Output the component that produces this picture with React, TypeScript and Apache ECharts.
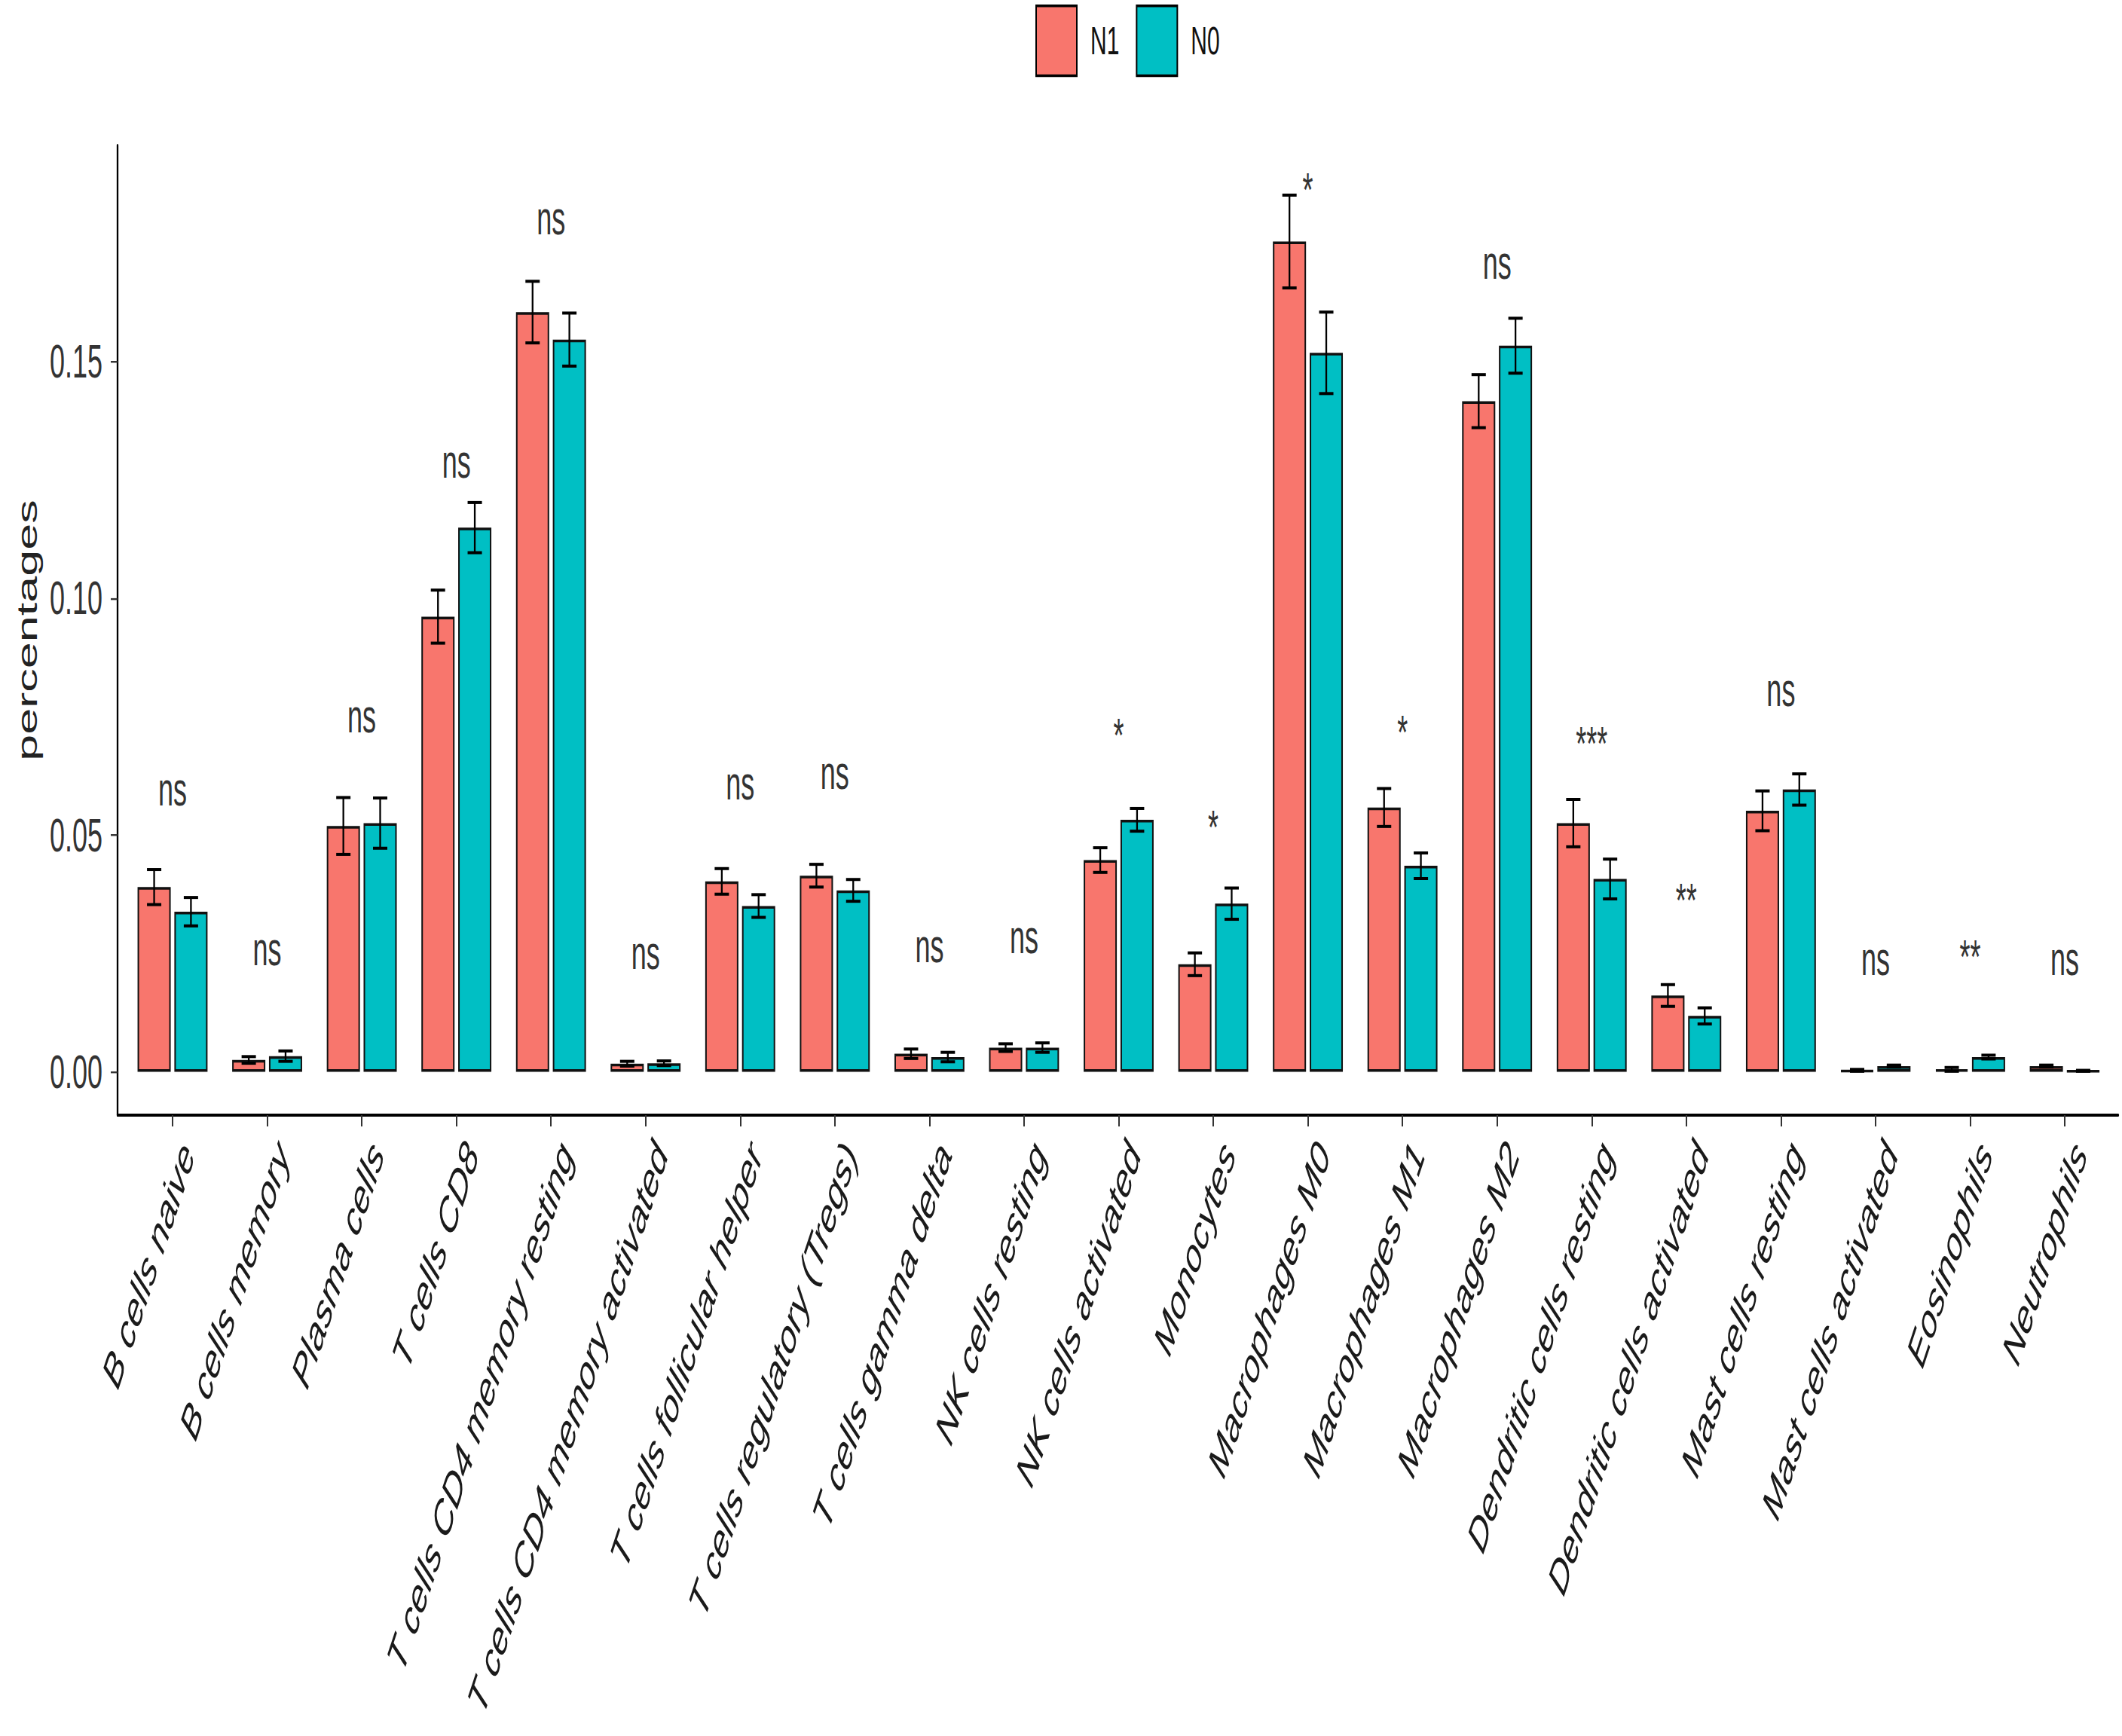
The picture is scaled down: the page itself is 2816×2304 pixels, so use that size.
import React, { useEffect, useRef } from "react";
import * as echarts from "echarts";

const categories = [
  "B cells naive",
  "B cells memory",
  "Plasma cells",
  "T cells CD8",
  "T cells CD4 memory resting",
  "T cells CD4 memory activated",
  "T cells follicular helper",
  "T cells regulatory (Tregs)",
  "T cells gamma delta",
  "NK cells resting",
  "NK cells activated",
  "Monocytes",
  "Macrophages M0",
  "Macrophages M1",
  "Macrophages M2",
  "Dendritic cells resting",
  "Dendritic cells activated",
  "Mast cells resting",
  "Mast cells activated",
  "Eosinophils",
  "Neutrophils",
];

const n1Mean = [0.039, 0.0025, 0.0519, 0.0961, 0.1604, 0.0017, 0.0402, 0.0414, 0.0038, 0.0051, 0.0447, 0.0227, 0.1753, 0.0558, 0.1416, 0.0525, 0.0161, 0.0551, 0.0003, 0.0005, 0.0012];
const n1Err = [0.0037, 0.0007, 0.006, 0.0056, 0.0065, 0.0005, 0.0027, 0.0024, 0.001, 0.0008, 0.0026, 0.0024, 0.0098, 0.004, 0.0056, 0.005, 0.0023, 0.0042, 0.0002, 0.0004, 0.0002];
const n0Mean = [0.0338, 0.0033, 0.0525, 0.1149, 0.1546, 0.0018, 0.035, 0.0383, 0.0031, 0.0051, 0.0532, 0.0355, 0.1518, 0.0435, 0.1533, 0.0407, 0.0118, 0.0596, 0.0012, 0.0031, 0.0002];
const n0Err = [0.003, 0.0011, 0.0053, 0.0053, 0.0056, 0.0005, 0.0024, 0.0023, 0.001, 0.001, 0.0024, 0.0033, 0.0086, 0.0027, 0.0058, 0.0042, 0.0017, 0.0033, 0.0002, 0.0004, 0.0001];

const sigLabels = ["ns", "ns", "ns", "ns", "ns", "ns", "ns", "ns", "ns", "ns", "*", "*", "*", "*", "ns", "***", "**", "ns", "ns", "**", "ns"];
const sigY = [0.0597, 0.0259, 0.0751, 0.1289, 0.1803, 0.0252, 0.061, 0.0631, 0.0266, 0.0285, 0.0711, 0.0517, 0.1863, 0.0718, 0.1708, 0.0694, 0.0363, 0.0806, 0.0239, 0.0244, 0.0239];

const yTicks = [0, 0.05, 0.1, 0.15];
const Y_MIN = -0.00916;
const Y_MAX = 0.1956;

const FONT = "'Liberation Sans', Arial, sans-serif";
const W = 2816;
const H = 1317;
const SCALE_Y = 2304 / H;
const BAR_WIDTH = 44;
const BAR_GAP = 0.11;
const CAP = 9.5;
const RED = "#F8766D";
const TEAL = "#00BFC4";

const GRID_TOP = 110.3;
const GRID_BOTTOM = H - 846;

function errorSeries(mean: number[], err: number[], sign: number) {
  const offset = (sign * (BAR_WIDTH + BAR_WIDTH * BAR_GAP)) / 2;
  return {
    type: "custom",
    xAxisIndex: 0,
    yAxisIndex: 0,
    z: 5,
    encode: { x: 0, y: [1, 2] },
    data: mean.map((m, i) => [i, m - err[i], m + err[i]]),
    renderItem: (params: any, api: any) => {
      const i = api.value(0);
      const lo = api.value(1);
      const hi = api.value(2);
      const cx = api.coord([i, 0])[0] + offset;
      const yLo = api.coord([i, lo])[1];
      const yHi = api.coord([i, hi])[1];
      const style = { stroke: "#000", lineWidth: 2.3 };
      return {
        type: "group",
        children: [
          { type: "line", shape: { x1: cx, y1: yLo, x2: cx, y2: yHi }, style },
          { type: "line", shape: { x1: cx - CAP, y1: yHi, x2: cx + CAP, y2: yHi }, style },
          { type: "line", shape: { x1: cx - CAP, y1: yLo, x2: cx + CAP, y2: yLo }, style },
        ],
      };
    },
  };
}

export default function App() {
  const ref = useRef<HTMLDivElement>(null);

  useEffect(() => {
    if (!ref.current) return;
    const chart = echarts.init(ref.current, undefined, { renderer: "svg" });
    const option: any = {
      animation: false,
      textStyle: { fontFamily: FONT },
      legend: {
        data: ["N1", "N0"],
        left: 1374,
        top: 3.4,
        padding: 0,
        icon: "rect",
        itemWidth: 54,
        itemHeight: 53,
        itemGap: 22,
        itemStyle: { borderColor: "#000", borderWidth: 2 },
        textStyle: { fontSize: 30, color: "#111", fontFamily: FONT, padding: [0, 0, 0, 13] },
      },
      grid: [
        { left: 166.2, right: 13.2, top: GRID_TOP, bottom: GRID_BOTTOM, outerBoundsMode: "none", containLabel: false },
        { left: 156, right: 5, top: GRID_TOP, bottom: GRID_BOTTOM, outerBoundsMode: "none", containLabel: false },
      ],
      xAxis: [
        {
          type: "category",
          gridIndex: 0,
          data: categories,
          boundaryGap: true,
          axisLine: { show: false, onZero: false },
          axisTick: { show: true, alignWithLabel: true, length: 8.5, lineStyle: { color: "#333", width: 2 } },
          axisLabel: {
            interval: 0,
            rotate: 60,
            fontSize: 37,
            fontStyle: "italic",
            color: "#1a1a1a",
            fontFamily: FONT,
            margin: 12,
            verticalAlign: "top",
            lineHeight: 46,
          },
          splitLine: { show: false },
        },
        {
          type: "value",
          gridIndex: 1,
          min: 0,
          max: 1,
          axisLine: { show: true, onZero: false, lineStyle: { color: "#000", width: 2.3 } },
          axisTick: { show: false },
          axisLabel: { show: false },
          splitLine: { show: false },
        },
      ],
      yAxis: [
        { type: "value", gridIndex: 0, min: Y_MIN, max: Y_MAX, show: false, splitLine: { show: false } },
        {
          type: "value",
          gridIndex: 1,
          min: Y_MIN,
          max: Y_MAX,
          axisLine: { show: true, onZero: false, lineStyle: { color: "#000", width: 2.3 } },
          axisTick: { show: true, customValues: yTicks, length: 9, lineStyle: { color: "#333", width: 1.4 } },
          axisLabel: {
            customValues: yTicks,
            formatter: (v: number) => v.toFixed(2),
            fontSize: 36,
            color: "#333",
            fontFamily: FONT,
            margin: 20,
          },
          splitLine: { show: false },
          name: "percentages",
          nameLocation: "middle",
          nameGap: 98,
          nameTextStyle: { fontSize: 36, color: "#222", fontFamily: FONT },
        },
      ],
      series: [
        {
          name: "N1",
          type: "bar",
          xAxisIndex: 0,
          yAxisIndex: 0,
          data: n1Mean,
          barWidth: BAR_WIDTH,
          barGap: `${BAR_GAP * 100}%`,
          itemStyle: { color: RED, borderColor: "#111", borderWidth: 2 },
        },
        {
          name: "N0",
          type: "bar",
          xAxisIndex: 0,
          yAxisIndex: 0,
          data: n0Mean,
          barWidth: BAR_WIDTH,
          barGap: `${BAR_GAP * 100}%`,
          itemStyle: { color: TEAL, borderColor: "#111", borderWidth: 2 },
        },
        errorSeries(n1Mean, n1Err, -1),
        errorSeries(n0Mean, n0Err, 1),
        {
          type: "custom",
          xAxisIndex: 0,
          yAxisIndex: 0,
          z: 6,
          encode: { x: 0, y: 1 },
          data: sigY.map((y, i) => [i, y]),
          renderItem: (params: any, api: any) => {
            const i = api.value(0);
            const p = api.coord([i, api.value(1)]);
            return {
              type: "text",
              x: p[0],
              y: p[1],
              style: {
                text: sigLabels[i],
                fill: "#333",
                fontSize: 36,
                fontFamily: FONT,
                align: "center",
                verticalAlign: "middle",
              },
            };
          },
        },
      ],
    };
    chart.setOption(option);
    return () => chart.dispose();
  }, []);

  return (
    <div
      style={{
        position: "absolute",
        left: 0,
        top: 0,
        width: W,
        height: H,
        overflow: "hidden",
        background: "#fff",
        transform: `scaleY(${SCALE_Y})`,
        transformOrigin: "0 0",
      }}
    >
      <div ref={ref} style={{ width: W, height: H }} />
    </div>
  );
}
